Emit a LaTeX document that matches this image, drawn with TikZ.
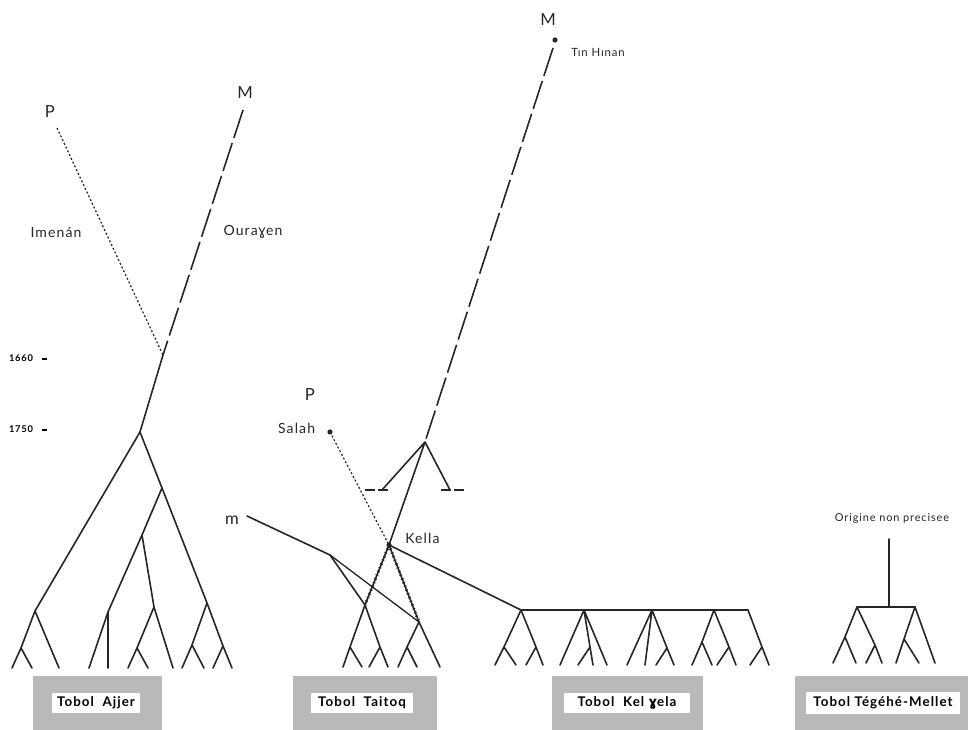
\documentclass[tikz,border=0pt]{standalone}
\usepackage{fontspec}
\setmainfont{Lato}[LetterSpace=8]
\newfontfamily\ipafont{DejaVu Sans}
\usepackage{tikz}
\usetikzlibrary{positioning}

\tikzset{
  branche/.style={line width=1.2pt, line cap=round, black!85},
  lignee/.style={line width=1.2pt, black!85, dash pattern=on 22pt off 4pt},
  pointille/.style={line width=0.9pt, black!85, dash pattern=on 1.5pt off 1.6pt},
  perle/.style={line width=2.3pt, black!85, dash pattern=on 0.7pt off 2.3pt},
  tiret/.style={line width=1pt, black!85, dash pattern=on 7.5pt off 2.5pt},
  lettre/.style={font=\fontsize{12.5}{13}\selectfont, text=black!85, inner sep=0pt},
  nom/.style={font=\fontsize{10.5}{11}\selectfont, text=black!85, inner sep=0pt},
  annee/.style={font=\fontsize{7}{7}\selectfont\bfseries, inner sep=0pt},
  caisse/.style={fill=gray!55},
  etiquette/.style={fill=white, font=\fontsize{10}{10}\selectfont\bfseries,
    inner sep=0pt, minimum height=15pt},
}

\begin{document}
\begin{tikzpicture}[x=0.75pt, y=-0.75pt]
    \useasboundingbox (0, 0) rectangle (968, 730);

    % Tobol Ajjer
    \foreach \n/\x/\y in {pa/57/128, ma/243/110, j1/163/355, ra/140/432,
        a1/35/611, a2/162/488, a3/142/535, a4/108/612, a5/207/603, a6/154/607,
        a7/21/648, a8/137/648, a9/192/645, a10/223/646,
        f1/12/668, f2/32/668, f3/59/668, f4/89/668, f5/108/668, f6/128/668,
        f7/148/668, f8/173/668, f9/182/668, f10/204/668, f11/213/668, f12/232/668,
        y1/42/359, y2/47/359, y3/42/430, y4/47/430}
        \coordinate (\n) at (\x, \y);

    \node[lettre] (lpa) at (50, 112) {P};
    \node[lettre] (lma) at (245, 93) {M};
    \node[nom] (imenan) at (56, 232) {Imenán};
    \node[nom] (ouraghen) at (253, 232) {Oura{\ipafont ɣ}en};
    \node[annee] (d1660) at (21, 358) {1660};
    \node[annee] (d1750) at (21, 429) {1750};
    \draw[line width=1pt] (y1) -- (y2);
    \draw[line width=1pt] (y3) -- (y4);

    \draw[pointille] (pa) -- (j1);
    \draw[lignee] (ma) -- (j1);
    \draw[branche] (j1) -- (ra);
    \draw[branche] (ra) -- (a1) -- (a7) -- (f1) (a7) -- (f2) (a1) -- (f3);
    \draw[branche] (ra) -- (a2) -- (a5) -- (a10) -- (f12) (a10) -- (f11)
        (a5) -- (a9) -- (f9) (a9) -- (f10);
    \draw[branche] (a2) -- (a3) -- (a4) -- (f4) (a4) -- (f5)
        (a3) -- (a6) -- (a8) -- (f6) (a8) -- (f7) (a6) -- (f8);

    % Tobol Taitoq
    \foreach \n/\x/\y in {tm/555/40, td/553/48, tj/425/442, tl/382/490, tr/450/490,
        dl1/365/490, dl2/388/490, dr1/441/490, dr2/464/490,
        kella/389/545, sd/330/432, mm/247/516, mn/330/555,
        t1/365/605, t2/419/622, t3/350/647, t4/380/647, t5/407/647,
        g1/343/667, g2/362/667, g3/369/667, g4/388/667, g5/398/667, g6/417/667, g7/440/667}
        \coordinate (\n) at (\x, \y);

    \fill[black!85] (tm) circle (2.6);
    \fill[black!85] (sd) circle (2.6);
    \fill[black!85] (kella) circle (2.6);
    \node[lettre] (lmt) at (548, 20) {M};
    \node[nom, font=\fontsize{8.5}{9}\selectfont, right=12pt of tm, yshift=-9pt] (tinhinan) {Tın Hınan};
    \node[lettre] (lps) at (310, 395) {P};
    \node[nom, left=11pt of sd, yshift=3pt] (salah) {Salah};
    \node[nom, right=12pt of kella, yshift=5pt] (lkella) {Kella};
    \node[lettre] (lmm) at (232, 520) {m};

    \draw[lignee] (td) -- (tj);
    \draw[branche] (tj) -- (tl) (tj) -- (tr) (tj) -- (kella);
    \draw[tiret] (dl1) -- (dl2);
    \draw[tiret] (dr1) -- (dr2);
    \draw[pointille] (sd) -- (kella);
    \draw[branche] (kella) -- (t1) -- (t3) -- (g1) (t3) -- (g2);
    \draw[branche] (kella) -- (t2) -- (g7) (t2) -- (t5) -- (g5) (t5) -- (g6);
    \draw[perle] (kella) -- (t1);
    \draw[perle] (kella) -- (t2);
    \draw[branche] (mm) -- (mn) -- (t1) -- (t4) -- (g4) (t4) -- (g3);
    \draw[branche, line width=1pt] (mn) -- (t2);

    % Tobol Kel ghela
    \foreach \n/\x/\y in {kg0/521/610, kg1/584/610, kg2/652/610, kg3/714/610, kg4/748/610,
        h1/504/647, h2/536/647, h3/590/647, h4/667/648, h5/702/642, h6/729/647, h7/762/647,
        k1/495/665, k2/516/665, k3/526/665, k4/543/665, k5/560/665, k6/578/665,
        k7/593/665, k8/607/665, k9/627/665, k10/645/665, k11/656/665, k12/674/665,
        k13/692/665, k14/712/665, k15/717/665, k16/736/665, k17/750/665, k18/769/665}
        \coordinate (\n) at (\x, \y);

    \draw[branche] (kella) -- (kg0) -- (kg4);
    \draw[branche] (kg0) -- (h1) -- (k1) (h1) -- (k2) (kg0) -- (h2) -- (k4) (h2) -- (k3);
    \draw[branche] (kg1) -- (k5) (kg1) -- (h3) -- (k7) (h3) -- (k6) (kg1) -- (k8);
    \draw[branche] (kg2) -- (k9) (kg2) -- (k10) (kg2) -- (h4) -- (k12) (h4) -- (k11);
    \draw[branche] (kg3) -- (h5) -- (k13) (h5) -- (k14) (kg3) -- (h6) -- (k16) (h6) -- (k15);
    \draw[branche] (kg4) -- (h7) -- (k18) (h7) -- (k17);

    % Tobol Tegehe-Mellet
    \foreach \n/\x/\y in {o1/889/539, o2/889/607, e1/857/607, e2/915/607,
        p1/845/637, p2/875/645, p3/904/639,
        q1/833/663, q2/856/663, q3/866/663, q4/882/663, q5/896/663, q6/919/663, q7/935/663}
        \coordinate (\n) at (\x, \y);

    \node[nom, font=\fontsize{8.2}{8.5}\selectfont] (origine) at (892, 519) {Origine non precisee};
    \draw[branche] (o1) -- (o2);
    \draw[branche] (e1) -- (e2);
    \draw[branche] (e1) -- (p1) -- (q1) (p1) -- (q2) (e1) -- (p2) -- (q4) (p2) -- (q3);
    \draw[branche] (e2) -- (p3) -- (q5) (p3) -- (q6) (e2) -- (q7);

    % cartouches
    \fill[caisse] (33, 676) rectangle (162, 730);
    \fill[caisse] (293, 676) rectangle (437, 730);
    \fill[caisse] (552, 676) rectangle (703, 730);
    \fill[caisse] (795, 676) rectangle (968, 730);
    \node[etiquette, minimum width=66pt] (tajjer) at (96, 703) {Tobol\ \ Ajjer};
    \node[etiquette, minimum width=76pt] (ttaitoq) at (362, 703) {Tobol\ \ Taitoq};
    \node[etiquette, minimum width=94pt] (tkel) at (627, 703) {Tobol\ \ Kel {\ipafont\bfseries ɣ}ela};
    \node[etiquette, minimum width=115pt, minimum height=17pt] (ttegehe) at (883, 703) {Tobol Tégéhé-Mellet};
\end{tikzpicture}
\end{document}
